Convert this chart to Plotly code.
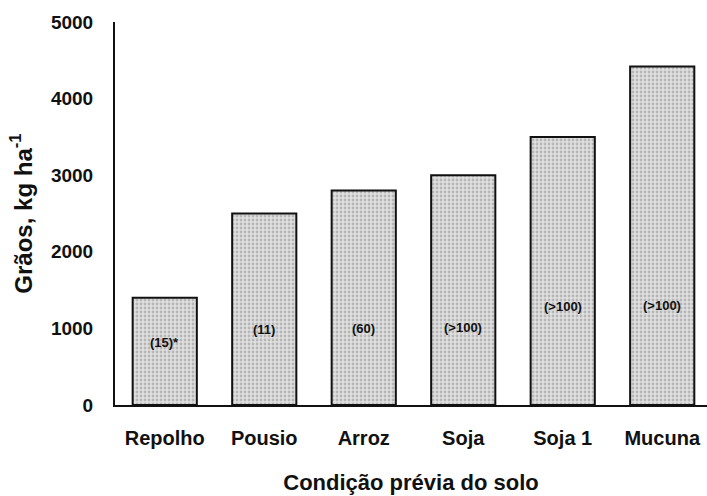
import plotly.graph_objects as go

categories = ["Repolho", "Pousio", "Arroz", "Soja", "Soja 1", "Mucuna"]
grain_yield = [1400, 2500, 2800, 3000, 3500, 4420]
bar_labels = ["(15)*", "(11)", "(60)", "(>100)", "(>100)", "(>100)"]
y_ticks = [0, 1000, 2000, 3000, 4000, 5000]

# vertical placement of the labels inside bars (data units)
label_y = [810, 990, 1005, 1018, 1280, 1305]

FONT = "Liberation Sans, Arial, sans-serif"

fig = go.Figure()
fig.add_trace(go.Bar(
    x=categories, y=grain_yield, width=0.645,
    marker=dict(color="#dcdcdc",
                line=dict(color="#111111", width=2),
                pattern=dict(shape=".", fgcolor="#8c8c8c", bgcolor="#e0e0e0",
                             size=4, solidity=0.4)),
    showlegend=False, hoverinfo="x+y",
))

for c, ly, t in zip(categories, label_y, bar_labels):
    fig.add_annotation(x=c, y=ly, text="<b>" + t + "</b>", showarrow=False,
                       font=dict(family=FONT, size=13, color="#111"))

fig.update_layout(
    width=707, height=496,
    margin=dict(l=115, r=0, t=22, b=91),
    paper_bgcolor="white", plot_bgcolor="white",
    font=dict(family=FONT, color="#111"),
)
fig.update_xaxes(
    range=[-0.5, 5.45],
    showline=True, linecolor="#111", linewidth=2,
    ticks="", tickfont=dict(size=20, color="#111"),
    tickvals=categories, ticktext=["<b>" + c + "</b>" for c in categories],
    ticklabelstandoff=14,
    title=dict(text="<b>Condição prévia do solo</b>", font=dict(size=22, color="#111"), standoff=27),
    showgrid=False,
)
fig.update_yaxes(
    range=[0, 5000], tickvals=y_ticks,
    ticktext=["<b>%d</b>" % v for v in y_ticks],
    showline=True, linecolor="#111", linewidth=2,
    ticks="", ticklabelstandoff=16,
    tickfont=dict(size=19, color="#111"),
    title=dict(text="<b>Grãos, kg ha<sup>-1</sup></b>", font=dict(size=24, color="#111"), standoff=12),
    showgrid=False, zeroline=False,
)

fig.write_html("out.html", config={"displayModeBar": False},
               post_script="document.body.style.margin='0';")
